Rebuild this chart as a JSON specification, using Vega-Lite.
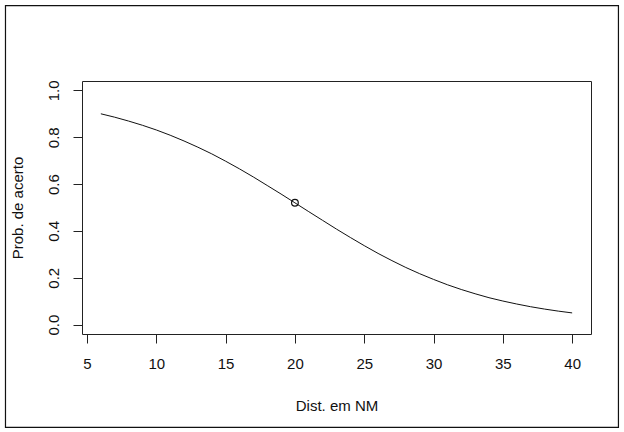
{
  "$schema": "https://vega.github.io/schema/vega-lite/v6.json",
  "width": 509,
  "height": 253,
  "autosize": {"type": "none"},
  "padding": {"left": 82, "top": 81, "right": 33, "bottom": 98},
  "background": "white",
  "config": {
    "view": {"stroke": "#222", "strokeWidth": 1},
    "font": "Liberation Sans",
    "axis": {
      "labelFont": "Liberation Sans",
      "titleFont": "Liberation Sans",
      "labelFontSize": 15,
      "titleFontSize": 15,
      "titleFontWeight": "normal",
      "labelColor": "#111",
      "titleColor": "#111",
      "tickColor": "#222",
      "tickSize": 9,
      "domain": false,
      "grid": false
    }
  },
  "datasets": {
    "curve": [
      {"dist": 6, "prob": 0.900}, {"dist": 7, "prob": 0.8855}, {"dist": 8, "prob": 0.869},
      {"dist": 9, "prob": 0.851}, {"dist": 10, "prob": 0.831}, {"dist": 11, "prob": 0.8086},
      {"dist": 12, "prob": 0.784}, {"dist": 13, "prob": 0.7574}, {"dist": 14, "prob": 0.729},
      {"dist": 15, "prob": 0.6977}, {"dist": 16, "prob": 0.665}, {"dist": 17, "prob": 0.6303},
      {"dist": 18, "prob": 0.594}, {"dist": 19, "prob": 0.5575}, {"dist": 20, "prob": 0.520},
      {"dist": 21, "prob": 0.4822}, {"dist": 22, "prob": 0.445}, {"dist": 23, "prob": 0.4077},
      {"dist": 24, "prob": 0.372}, {"dist": 25, "prob": 0.3372}, {"dist": 26, "prob": 0.304},
      {"dist": 27, "prob": 0.2732}, {"dist": 28, "prob": 0.244}, {"dist": 29, "prob": 0.2174},
      {"dist": 30, "prob": 0.193}, {"dist": 31, "prob": 0.1703}, {"dist": 32, "prob": 0.150},
      {"dist": 33, "prob": 0.1318}, {"dist": 34, "prob": 0.115}, {"dist": 35, "prob": 0.1008},
      {"dist": 36, "prob": 0.088}, {"dist": 37, "prob": 0.0765}, {"dist": 38, "prob": 0.0665},
      {"dist": 39, "prob": 0.0577}, {"dist": 40, "prob": 0.050}
    ],
    "pt": [{"dist": 20, "prob": 0.52}]
  },
  "layer": [
    {
      "data": {"name": "curve"},
      "mark": {"type": "line", "color": "#111", "strokeWidth": 1, "interpolate": "monotone"},
      "encoding": {
        "x": {
          "field": "dist", "type": "quantitative",
          "scale": {"domain": [4.64, 41.36], "nice": false, "zero": false},
          "axis": {"values": [5, 10, 15, 20, 25, 30, 35, 40], "title": "Dist. em NM", "labelPadding": 13, "titlePadding": 27, "labelFlush": false, "labelOverlap": false}
        },
        "y": {
          "field": "prob", "type": "quantitative",
          "scale": {"domain": [-0.04, 1.04], "nice": false, "zero": false},
          "axis": {"values": [0, 0.2, 0.4, 0.6, 0.8, 1.0], "format": ".1f", "title": "Prob. de acerto", "labelAngle": 270, "labelAlign": "center", "labelBaseline": "bottom", "labelPadding": 12, "titlePadding": 21, "labelFlush": false, "labelOverlap": false}
        }
      }
    },
    {
      "data": {"name": "pt"},
      "mark": {"type": "point", "shape": "circle", "filled": false, "color": "#111", "strokeWidth": 1.2, "size": 45, "opacity": 1},
      "encoding": {
        "x": {"field": "dist", "type": "quantitative"},
        "y": {"field": "prob", "type": "quantitative"}
      }
    },
    {
      "data": {"values": [{}]},
      "mark": {"type": "rect", "fill": null, "fillOpacity": 0, "stroke": "#111", "strokeWidth": 1.2, "clip": false},
      "encoding": {
        "x": {"datum": -0.88, "type": "quantitative"},
        "x2": {"datum": 43.34},
        "y": {"datum": 1.362, "type": "quantitative"},
        "y2": {"datum": -0.439}
      }
    }
  ]
}
